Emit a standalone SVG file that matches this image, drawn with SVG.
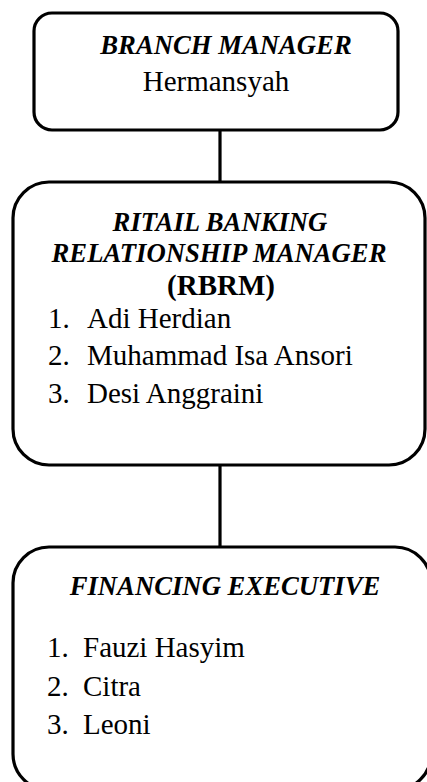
<svg xmlns="http://www.w3.org/2000/svg" width="427" height="782" viewBox="0 0 427 782">
  <style>
    .box { fill: #ffffff; stroke: #000000; stroke-width: 3.2; }
    .link { stroke: #000000; stroke-width: 3.2; fill: none; }
    text { font-family: "Liberation Serif", "Times New Roman", serif; fill: #000000; font-size: 29px; }
    .title { font-weight: bold; font-style: italic; font-size: 26.7px; text-anchor: middle; }
    .abbr { font-weight: bold; text-anchor: middle; }
    .mid { text-anchor: middle; }
  </style>
  <rect width="427" height="782" fill="#ffffff"/>

  <!-- connectors between levels -->
  <g id="connectors">
    <line class="link" x1="220" y1="130" x2="220" y2="183"/>
    <line class="link" x1="220" y1="465" x2="220" y2="548"/>
  </g>

  <!-- top level -->
  <g id="branch-manager">
    <rect class="box" x="34" y="13" width="364" height="117" rx="18" ry="18"/>
    <text class="title" x="226" y="54">BRANCH MANAGER</text>
    <text class="mid" x="216" y="91">Hermansyah</text>
  </g>

  <!-- relationship managers -->
  <g id="rbrm">
    <rect class="box" x="13" y="182" width="412" height="283" rx="36" ry="36"/>
    <text class="title" x="220" y="231">RITAIL BANKING</text>
    <text class="title" x="219" y="262">RELATIONSHIP MANAGER</text>
    <text class="abbr" x="221" y="295">(RBRM)</text>
    <text x="48" y="328">1.</text>
    <text x="87" y="328">Adi Herdian</text>
    <text x="48" y="365">2.</text>
    <text x="87" y="365">Muhammad Isa Ansori</text>
    <text x="48" y="403">3.</text>
    <text x="87" y="403">Desi Anggraini</text>
  </g>

  <!-- financing executives -->
  <g id="financing-executive">
    <rect class="box" x="13" y="547" width="418" height="243" rx="36" ry="36"/>
    <text class="title" x="225" y="595">FINANCING EXECUTIVE</text>
    <text x="47" y="657">1.</text>
    <text x="83" y="657">Fauzi Hasyim</text>
    <text x="47" y="696">2.</text>
    <text x="83" y="696">Citra</text>
    <text x="47" y="734">3.</text>
    <text x="83" y="734">Leoni</text>
  </g>
</svg>
